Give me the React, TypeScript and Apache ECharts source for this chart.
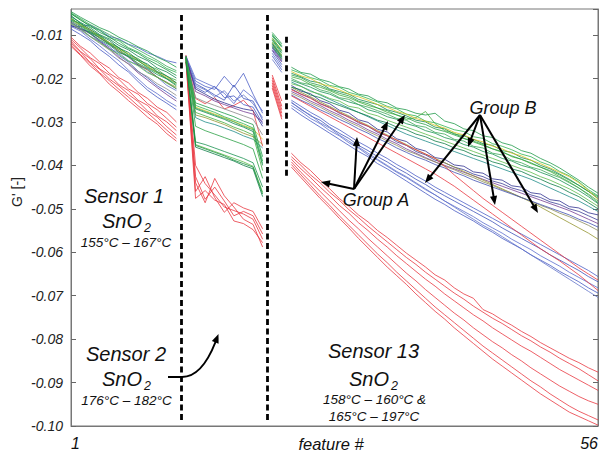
import { useEffect, useRef } from 'react';
import * as echarts from 'echarts';

const FONT = '"Liberation Sans", Arial, sans-serif';

// ---------- axes ----------
const yMin = -0.1;
const yMax = -0.004;
const yStep = 0.01;
const xMin = 1;
const xMax = 56;
const xTickLabels = [1, 56];
const xAxisTitle = 'feature #';
const yAxisTitle = "G' [-]";

// ---------- feature numbers per sensor block ----------
const sensor1Features = [1, 2, 3, 4, 5, 6, 7, 8, 9, 10, 11, 12];
const sensor2Features = [13, 14, 15, 16, 17, 18, 19, 20, 21];
const sensorXFeatures = [22, 23];
const sensor13Features = [24, 25, 26, 27, 28, 29, 30, 31, 32, 33, 34, 35, 36, 37, 38, 39, 40, 41, 42, 43, 44, 45, 46, 47, 48, 49, 50, 51, 52, 53, 54, 55, 56];

// ---------- G' values, in units of 1e-3 ----------
// Sensor 1
const s1Green = [
  [-4.6, -5.9, -7.1, -8.3, -9.2, -10.5, -11.5, -12.7, -13.7, -15.1, -16.1, -17.4],
  [-5.2, -6.4, -8.1, -8.9, -10.6, -11.3, -12.9, -13.9, -15.2, -16.2, -17.7, -18.6],
  [-5.8, -7.1, -8.3, -9.9, -10.9, -12.4, -13.4, -14.9, -15.9, -17.6, -18.5, -19.9],
  [-6.3, -7.5, -9.3, -10.1, -11.9, -12.9, -14.5, -15.4, -17.0, -17.9, -19.5, -20.4],
  [-6.8, -8.1, -9.7, -11.1, -12.3, -14.0, -14.9, -16.5, -17.7, -19.1, -20.1, -21.4],
  [-7.3, -8.5, -10.3, -11.7, -13.3, -14.4, -16.0, -17.1, -18.7, -19.7, -21.1, -22.3],
  [-5.5, -7.3, -8.7, -10.1, -11.2, -13.0, -14.0, -15.7, -16.7, -18.4, -19.4, -21.0],
  [-6.0, -7.8, -9.5, -10.5, -12.1, -13.3, -15.0, -15.9, -17.5, -18.7, -20.1, -21.7],
  [-4.9, -6.2, -7.6, -8.7, -9.9, -11.1, -12.2, -13.4, -14.6, -15.8, -17.2, -18.2],
  [-5.0, -6.6, -7.8, -9.4, -10.4, -11.9, -13.1, -14.2, -15.6, -16.8, -18.0, -19.3],
];
const s1Blue = [
  [-8.1, -8.0, -7.7, -8.9, -10.3, -10.9, -12.1, -12.9, -14.1, -14.9, -15.9, -16.4],
  [-7.2, -8.4, -9.5, -11.3, -12.7, -14.7, -16.2, -18.3, -19.9, -21.7, -23.1, -24.6],
  [-8.0, -9.1, -10.9, -12.5, -14.3, -15.9, -18.1, -20.1, -22.1, -23.5, -25.1, -26.4],
  [-8.6, -9.9, -11.3, -13.3, -14.9, -16.9, -18.5, -20.7, -22.7, -24.3, -25.7, -27.2],
  [-7.6, -8.7, -10.3, -11.5, -13.1, -14.1, -15.9, -16.9, -18.5, -19.7, -21.6, -22.8],
];
const s1Other = [
  [-7.8, -8.7, -9.3, -10.7, -12.1, -13.7, -15.1, -16.9, -17.9, -19.7, -20.9, -22.4],
  [-7.0, -8.5, -9.7, -11.5, -13.1, -15.1, -16.7, -18.7, -20.4, -22.1, -23.7, -25.2],
  [-6.5, -7.9, -8.9, -10.7, -11.9, -13.7, -14.9, -16.7, -18.1, -19.7, -20.9, -22.0],
  [-6.6, -7.3, -9.1, -10.3, -11.7, -12.9, -14.7, -15.9, -17.3, -18.5, -20.0, -21.0],
  [-6.2, -7.6, -8.7, -10.4, -11.7, -13.3, -14.3, -15.9, -17.2, -18.6, -19.7, -21.1],
  [-7.4, -8.9, -10.4, -11.9, -13.4, -15.3, -16.6, -18.4, -19.6, -21.2, -22.4, -23.9],
];
const s1Red = [
  [-10.5, -12.6, -14.1, -16.2, -17.6, -19.8, -21.0, -23.2, -24.6, -26.6, -27.8, -30.0],
  [-11.0, -13.0, -15.2, -16.6, -18.8, -20.2, -22.4, -23.6, -25.8, -27.2, -29.2, -31.2],
  [-11.4, -13.8, -15.4, -17.8, -19.2, -21.4, -22.8, -25.0, -26.2, -28.6, -30.0, -32.0],
  [-11.8, -13.9, -16.3, -17.9, -20.1, -21.7, -23.7, -25.3, -27.5, -28.9, -31.1, -33.0],
  [-12.2, -14.5, -16.5, -18.7, -20.5, -22.5, -24.3, -26.3, -27.9, -29.9, -31.9, -33.8],
  [-12.6, -14.7, -17.1, -18.9, -21.3, -23.1, -25.1, -26.9, -28.9, -30.5, -32.7, -34.4],
];

// Sensor 2
const s2Blue = [
  [-15.0, -20.6, -21.8, -22.5, -19.5, -22.0, -18.8, -23.6, -28.0],
  [-15.4, -21.2, -22.4, -23.8, -25.0, -21.5, -24.6, -25.2, -29.6],
  [-14.8, -20.0, -21.0, -22.0, -23.4, -25.8, -22.6, -24.4, -27.5],
  [-15.6, -22.0, -23.2, -21.8, -24.4, -24.0, -26.0, -26.6, -30.4],
  [-16.0, -21.6, -22.6, -24.2, -22.8, -25.2, -23.8, -25.8, -29.0],
];
const s2Other = [
  [-15.2, -22.4, -23.6, -24.8, -25.6, -26.4, -27.0, -27.4, -31.0],
  [-14.8, -23.0, -24.0, -25.2, -26.0, -26.8, -27.6, -28.2, -30.0],
  [-16.0, -28.4, -29.0, -29.8, -30.6, -31.6, -32.6, -33.4, -35.2],
  [-15.2, -29.0, -30.0, -30.6, -31.4, -32.2, -33.2, -34.0, -36.0],
  [-15.6, -26.6, -27.4, -28.2, -29.0, -29.9, -30.8, -31.6, -34.0],
  [-15.8, -24.4, -25.4, -26.2, -27.0, -27.8, -28.6, -29.4, -33.0],
];
const s2Green = [
  [-15.0, -25.6, -26.4, -27.2, -28.0, -28.8, -29.8, -30.6, -38.0],
  [-15.4, -26.2, -27.0, -27.8, -28.8, -29.6, -30.4, -31.4, -39.0],
  [-15.8, -27.0, -27.8, -28.6, -29.4, -30.4, -31.2, -32.2, -40.0],
  [-16.2, -27.8, -28.6, -29.4, -30.2, -31.2, -32.0, -33.0, -41.2],
  [-15.0, -34.6, -35.2, -36.0, -36.8, -37.6, -38.4, -39.4, -45.0],
  [-15.6, -35.2, -36.0, -36.8, -37.6, -38.4, -39.2, -40.2, -46.2],
  [-16.2, -35.8, -36.6, -37.4, -38.2, -39.0, -40.0, -40.8, -47.2],
  [-14.8, -31.0, -32.0, -32.8, -33.6, -34.4, -35.2, -36.2, -43.0],
  [-15.2, -26.8, -27.6, -28.4, -29.2, -30.0, -31.0, -31.8, -39.6],
  [-15.4, -35.4, -36.2, -37.0, -37.8, -38.8, -39.6, -40.4, -46.6],
];
const s2Red = [
  [-14.6, -40.0, -44.2, -46.8, -49.6, -50.4, -51.2, -52.4, -57.0],
  [-15.0, -42.6, -47.8, -45.0, -48.2, -51.6, -50.6, -51.6, -55.8],
  [-15.4, -44.0, -48.6, -43.0, -47.0, -49.6, -52.4, -53.6, -58.8],
  [-15.8, -46.0, -42.6, -47.4, -50.8, -48.6, -49.8, -50.6, -54.6],
  [-16.2, -47.6, -45.8, -48.0, -49.0, -52.8, -53.4, -54.8, -57.8],
  [-14.8, -24.6, -25.8, -24.4, -27.0, -26.2, -25.0, -27.4, -35.6],
];

// Short block, features 22-23
const sXGreen = [
  [-9.4, -12.0], [-9.8, -12.6], [-10.2, -12.8], [-10.6, -13.6], [-11.0, -13.8],
  [-11.6, -14.6], [-12.0, -15.0], [-12.6, -15.4], [-10.0, -12.4], [-11.2, -14.2],
];
const sXBlue = [[-13.0, -16.0], [-13.6, -16.8], [-14.2, -17.4], [-14.8, -18.0], [-15.6, -18.6]];
const sXOther = [[-12.8, -15.6], [-13.4, -16.2], [-11.8, -14.8], [-12.2, -15.2], [-10.8, -13.4], [-12.4, -15.8]];
const sXRed = [[-19.2, -25.2], [-19.8, -26.4], [-20.4, -27.2], [-21.0, -28.0], [-21.6, -28.8], [-22.2, -29.4]];

// Sensor 13
const s13Green = [
  [-17.4, -18.6, -19.0, -20.2, -20.8, -21.9, -22.4, -23.6, -24.0, -25.2, -25.6, -26.8, -27.2, -28.0, -28.4, -28.0, -29.8, -30.4, -31.6, -32.0, -33.2, -33.6, -34.8, -35.4, -36.6, -37.2, -38.4, -39.4, -40.6, -42.0, -43.4, -45.0, -46.4],
  [-18.0, -18.8, -19.8, -20.4, -21.6, -22.0, -23.2, -23.8, -24.6, -25.4, -26.4, -27.0, -28.2, -28.6, -29.8, -30.2, -31.0, -31.8, -32.2, -33.4, -33.8, -35.0, -35.6, -36.4, -37.4, -38.0, -39.2, -40.0, -41.4, -42.4, -43.8, -45.6, -47.0],
  [-18.8, -19.6, -20.6, -21.0, -22.4, -23.0, -23.6, -24.8, -25.4, -26.0, -27.2, -27.8, -28.6, -29.6, -30.0, -31.2, -31.6, -32.8, -33.2, -34.0, -35.0, -35.4, -36.6, -37.0, -38.2, -38.8, -40.0, -40.8, -42.0, -43.2, -44.6, -46.0, -47.6],
  [-19.6, -20.2, -21.4, -22.0, -22.8, -23.8, -24.4, -25.4, -26.2, -26.8, -27.8, -28.4, -29.4, -29.0, -27.6, -30.4, -32.0, -32.6, -33.8, -34.4, -35.2, -36.2, -36.8, -38.0, -38.6, -39.6, -40.4, -41.4, -42.6, -43.8, -45.2, -46.6, -48.2],
  [-20.4, -21.2, -22.0, -23.0, -23.6, -24.6, -25.4, -26.0, -27.2, -27.8, -28.8, -29.4, -30.4, -31.0, -32.0, -32.6, -33.6, -34.2, -35.2, -35.8, -36.8, -37.4, -38.4, -39.0, -40.0, -40.6, -41.6, -42.4, -43.4, -44.6, -45.8, -47.2, -48.8],
  [-21.2, -21.8, -23.0, -23.6, -24.6, -25.2, -26.4, -26.8, -28.0, -28.6, -29.6, -30.4, -31.2, -32.0, -32.8, -33.6, -34.4, -35.2, -36.0, -36.8, -37.6, -38.4, -39.2, -40.0, -40.8, -41.6, -42.6, -43.4, -44.4, -45.4, -46.6, -48.0, -49.4],
  [-22.0, -22.6, -23.8, -24.4, -25.4, -26.2, -27.0, -27.8, -28.6, -29.6, -30.2, -31.2, -31.8, -32.8, -33.4, -34.4, -35.0, -36.0, -36.6, -37.6, -38.2, -39.2, -39.8, -40.8, -41.4, -42.4, -43.2, -44.2, -45.0, -46.2, -47.2, -48.6, -50.0],
  [-19.2, -19.8, -21.0, -21.6, -22.6, -23.4, -24.0, -25.2, -25.8, -26.8, -27.4, -28.4, -29.0, -30.0, -30.6, -31.6, -32.2, -33.0, -33.8, -34.6, -35.4, -36.2, -37.0, -37.8, -38.6, -39.4, -40.4, -41.2, -42.2, -43.4, -44.6, -46.0, -47.2],
  [-20.0, -21.0, -21.4, -22.6, -23.2, -24.4, -24.8, -26.0, -26.6, -27.4, -28.2, -29.2, -29.6, -30.8, -31.2, -32.4, -32.8, -34.0, -34.4, -35.6, -36.0, -37.2, -37.6, -38.8, -39.4, -40.4, -41.0, -42.0, -42.8, -44.0, -45.2, -46.8, -48.6],
  [-18.4, -19.4, -20.0, -21.2, -21.8, -22.6, -23.6, -24.2, -25.0, -26.0, -26.6, -27.6, -28.2, -29.2, -29.8, -30.8, -31.4, -32.4, -33.0, -34.0, -34.6, -35.6, -36.2, -37.2, -37.8, -38.8, -39.6, -40.6, -41.6, -42.6, -44.0, -45.8, -47.8],
];
const s13GroupB = [
  [-21.6, -22.9, -23.5, -25.1, -25.8, -27.3, -27.9, -29.5, -30.1, -31.7, -32.3, -33.9, -34.5, -36.1, -36.7, -38.2, -38.6, -39.9, -40.2, -41.5, -41.8, -43.1, -43.4, -44.7, -45.0, -46.3, -46.6, -47.9, -48.2, -49.5, -49.8, -50.9, -51.4],
  [-22.4, -23.6, -24.4, -25.8, -26.6, -28.0, -28.8, -30.2, -31.0, -32.4, -33.2, -34.6, -35.4, -36.8, -37.6, -38.8, -39.4, -40.4, -41.0, -42.0, -42.6, -43.6, -44.2, -45.2, -45.8, -46.8, -47.4, -48.4, -49.0, -50.0, -50.6, -51.6, -52.6],
  [-23.0, -24.0, -25.2, -26.2, -27.4, -28.4, -29.6, -30.6, -31.8, -32.8, -34.0, -35.0, -36.2, -37.2, -38.2, -39.2, -40.0, -40.8, -41.6, -42.4, -43.2, -44.0, -44.8, -45.6, -46.4, -47.2, -48.0, -48.8, -49.6, -50.4, -51.4, -52.4, -53.4],
  [-22.0, -23.2, -24.2, -25.4, -26.4, -27.6, -28.6, -29.8, -30.8, -32.0, -33.0, -34.2, -35.2, -36.4, -37.4, -38.4, -39.4, -40.4, -41.4, -42.4, -43.4, -44.4, -45.4, -46.4, -47.4, -48.4, -49.6, -50.8, -52.0, -53.2, -54.4, -55.6, -57.0],
  [-23.4, -24.4, -25.6, -26.6, -27.8, -28.8, -30.0, -31.0, -32.2, -33.2, -34.4, -35.4, -36.6, -37.4, -38.4, -39.2, -40.2, -41.0, -42.0, -42.8, -43.8, -44.6, -45.6, -46.4, -47.4, -48.2, -49.2, -50.0, -51.0, -51.8, -52.8, -53.8, -55.0],
  [-23.8, -25.0, -26.0, -27.2, -28.2, -29.4, -30.4, -31.6, -32.6, -33.8, -34.8, -36.0, -37.0, -38.0, -38.8, -39.8, -40.6, -41.6, -42.4, -43.4, -44.2, -45.0, -45.8, -46.6, -47.4, -48.2, -49.0, -49.8, -50.6, -51.4, -52.4, -53.2, -54.2],
  [-20.8, -21.8, -22.8, -23.8, -24.8, -25.8, -26.8, -27.8, -28.8, -29.8, -30.8, -31.8, -32.8, -33.6, -34.4, -35.2, -36.0, -36.8, -37.6, -38.4, -39.2, -40.0, -40.8, -41.6, -42.4, -43.2, -44.2, -45.2, -46.2, -47.2, -48.2, -49.4, -50.6],
];
const s13RedMid = [
  [-22.6, -23.6, -24.6, -25.8, -26.8, -27.8, -29.0, -30.0, -31.0, -32.2, -33.2, -34.2, -35.4, -36.4, -37.4, -38.4, -40.2, -42.2, -44.0, -45.8, -47.6, -49.2, -50.8, -52.4, -54.0, -55.6, -57.2, -58.8, -60.4, -62.0, -63.6, -65.0, -66.4],
  [-24.0, -25.2, -26.4, -27.6, -28.8, -30.0, -31.2, -32.4, -33.6, -34.8, -36.0, -37.2, -38.4, -39.6, -40.8, -42.0, -43.4, -44.8, -46.4, -48.0, -49.6, -51.2, -52.8, -54.4, -56.0, -57.6, -59.2, -60.6, -62.0, -63.6, -65.2, -67.0, -68.8],
];
const s13GroupA = [
  [-25.0, -26.4, -27.8, -29.0, -30.6, -31.8, -33.2, -34.6, -35.8, -37.2, -38.4, -39.8, -41.0, -42.4, -43.6, -45.0, -46.2, -47.4, -48.6, -49.8, -51.0, -52.2, -53.4, -54.6, -55.8, -57.0, -58.2, -59.4, -60.6, -61.8, -63.0, -64.2, -65.6],
  [-25.6, -27.0, -28.6, -29.6, -31.2, -32.6, -33.8, -35.4, -36.6, -38.0, -39.2, -40.6, -41.8, -43.2, -44.4, -45.8, -47.0, -48.2, -49.4, -50.6, -51.8, -53.0, -54.4, -55.6, -56.8, -58.0, -59.2, -60.6, -61.8, -63.0, -64.2, -65.6, -66.8],
  [-26.2, -27.6, -29.2, -30.4, -32.0, -33.2, -34.8, -36.0, -37.6, -38.8, -40.2, -41.6, -42.8, -44.2, -45.6, -46.8, -48.2, -49.4, -50.6, -51.8, -53.2, -54.4, -55.6, -57.0, -58.2, -59.4, -60.8, -62.0, -63.2, -64.6, -65.8, -67.0, -68.2],
  [-26.8, -28.4, -29.8, -31.2, -32.6, -34.0, -35.4, -36.8, -38.0, -39.6, -40.8, -42.2, -43.6, -45.0, -46.4, -47.8, -49.0, -50.4, -51.6, -52.8, -54.2, -55.4, -56.8, -58.0, -59.2, -60.6, -61.8, -63.0, -64.4, -65.6, -66.8, -68.2, -69.4],
  [-25.4, -27.2, -28.4, -30.2, -31.4, -33.0, -34.4, -35.8, -37.2, -38.6, -40.0, -41.4, -42.6, -44.0, -45.4, -46.8, -48.2, -49.6, -51.0, -52.4, -53.8, -55.0, -56.4, -57.8, -59.2, -60.6, -62.0, -63.4, -64.8, -66.2, -67.6, -69.0, -70.4],
];
const s13Red = [
  [-37.2, -39.4, -41.2, -43.4, -45.4, -47.6, -49.4, -51.4, -53.0, -55.0, -56.6, -58.4, -60.2, -61.8, -63.4, -65.2, -66.4, -68.2, -69.6, -70.6, -73.2, -74.2, -75.6, -76.8, -78.2, -79.4, -80.8, -82.0, -83.2, -84.4, -85.4, -86.6, -87.6],
  [-38.0, -40.0, -42.2, -44.0, -46.2, -48.0, -50.2, -52.0, -54.0, -55.8, -57.6, -59.4, -61.2, -62.8, -64.6, -66.2, -67.8, -69.4, -70.8, -72.4, -73.8, -75.2, -76.4, -77.8, -79.2, -80.4, -81.8, -83.0, -84.4, -85.6, -86.8, -88.2, -89.6],
  [-38.6, -40.8, -42.8, -45.0, -47.0, -49.2, -51.0, -53.2, -55.0, -57.0, -58.8, -60.8, -62.6, -64.4, -66.2, -67.8, -69.6, -71.2, -72.8, -74.4, -75.8, -77.4, -78.8, -80.2, -81.6, -82.8, -84.2, -85.6, -87.0, -88.2, -89.4, -90.6, -91.8],
  [-39.2, -41.6, -43.8, -46.0, -48.2, -50.4, -52.6, -54.6, -56.8, -58.8, -60.8, -62.8, -64.8, -66.6, -68.6, -70.4, -72.2, -74.0, -75.6, -77.4, -79.0, -80.6, -82.0, -83.6, -85.0, -86.6, -88.0, -89.4, -90.8, -92.0, -93.2, -94.2, -95.0],
  [-39.8, -42.2, -44.6, -47.0, -49.2, -51.6, -53.8, -56.0, -58.2, -60.4, -62.4, -64.6, -66.6, -68.6, -70.6, -72.6, -74.4, -76.2, -78.0, -79.8, -81.6, -83.2, -84.8, -86.4, -88.0, -89.6, -91.0, -92.6, -94.0, -95.4, -96.6, -97.6, -98.6],
  [-40.4, -42.8, -45.2, -47.6, -49.8, -52.2, -54.4, -56.8, -59.0, -61.2, -63.4, -65.4, -67.4, -69.6, -71.6, -73.6, -75.4, -77.4, -79.2, -81.0, -82.8, -84.6, -86.2, -87.8, -89.4, -91.0, -92.6, -94.0, -95.4, -96.8, -97.8, -98.8, -99.8],
];

// ---------- boundaries between sensors (feature #, G' range) ----------
const boundaries = [
  { x: 12.5, from: -0.0054, to: -0.0986 },
  { x: 21.5, from: -0.0054, to: -0.0986 },
  { x: 23.5, from: -0.0104, to: -0.0429 },
];

// ---------- colours ----------
const RED = '#e8353e';
const GREENS = ['#1e9a48', '#2db34e', '#12874c', '#43ad3c', '#199250', '#5bba4a', '#0c7c44', '#28a043', '#3aa857', '#168f3e'];
const BLUES = ['#4b5ec6', '#3c50b8', '#5a6ccd', '#4558c2', '#6273ca'];
const OTHERS = ['#2c2e8e', '#743b93', '#93932e', '#1f8c88', '#d9c41f', '#888888'];
const S13_GREENS = ['#1e9a48', '#2db34e', '#12874c', '#43ad3c', '#199250', '#5bba4a', '#0c7c44', '#28a043', '#3aa857', '#d6c21e'];
const S13_B = ['#2c2e8e', '#3a3c96', '#743b93', '#93932e', '#8c8c5c', '#4150b2', '#1f8c88'];

function lineSeries(features: number[], vals: number[], color: string, z = 2) {
  return {
    type: 'line',
    data: features.map((f, i) => [f, vals[i] / 1000]),
    symbol: 'none',
    silent: true,
    z,
    emphasis: { disabled: true },
    lineStyle: { color, width: 0.9, opacity: 0.88 },
  };
}

function arrowHead(tx: number, ty: number, fx: number, fy: number, L = 9, W = 3.6) {
  const dx = tx - fx, dy = ty - fy;
  const len = Math.hypot(dx, dy);
  const ux = dx / len, uy = dy / len;
  const bx = tx - ux * L, by = ty - uy * L;
  return {
    type: 'polygon',
    silent: true,
    z: 120,
    shape: { points: [[tx, ty], [bx - uy * W, by + ux * W], [bx + uy * W, by - ux * W]] },
    style: { fill: '#000' },
  };
}

function arrow(x0: number, y0: number, x1: number, y1: number) {
  const dx = x1 - x0, dy = y1 - y0;
  const len = Math.hypot(dx, dy);
  const ux = dx / len, uy = dy / len;
  return [
    {
      type: 'line', silent: true, z: 120,
      shape: { x1: x0, y1: y0, x2: x1 - ux * 7, y2: y1 - uy * 7 },
      style: { stroke: '#000', lineWidth: 2 },
    },
    arrowHead(x1, y1, x0, y0),
  ];
}

const notes = [
  { text: 'Sensor 1', x: 124, y: 196, size: 20, align: 'center' },
  { text: 'SnO', x: 102, y: 221, size: 20, align: 'left' },
  { text: '2', x: 144, y: 228, size: 12.5, align: 'left' },
  { text: '155°C – 167°C', x: 126, y: 242.5, size: 13.5, align: 'center' },
  { text: 'Sensor 2', x: 126, y: 353.7, size: 20, align: 'center' },
  { text: 'SnO', x: 102, y: 378.5, size: 20, align: 'left' },
  { text: '2', x: 144, y: 385.5, size: 12.5, align: 'left' },
  { text: '176°C – 182°C', x: 126.5, y: 400.5, size: 13.5, align: 'center' },
  { text: 'Sensor 13', x: 373.5, y: 351, size: 20, align: 'center' },
  { text: 'SnO', x: 349, y: 378.5, size: 20, align: 'left' },
  { text: '2', x: 391, y: 385.5, size: 12.5, align: 'left' },
  { text: '158°C – 160°C &', x: 374.5, y: 399.5, size: 13.5, align: 'center' },
  { text: '165°C – 197°C', x: 374, y: 416.7, size: 13.5, align: 'center' },
  { text: 'Group A', x: 376, y: 200, size: 18, align: 'center' },
  { text: 'Group B', x: 503, y: 108, size: 18, align: 'center' },
];

const groupAFrom = [354, 189];
const groupATo = [[321, 182], [357, 137], [388, 121], [405, 115]];
const groupBFrom = [480, 115];
const groupBTo = [[425, 183], [468, 147], [495, 205], [538, 213]];

function buildOption() {
  const series: any[] = [];
  s1Red.forEach((v) => series.push(lineSeries(sensor1Features, v, RED)));
  s1Blue.forEach((v, i) => series.push(lineSeries(sensor1Features, v, BLUES[i % BLUES.length])));
  s1Other.forEach((v, i) => series.push(lineSeries(sensor1Features, v, OTHERS[i % OTHERS.length])));
  s1Green.forEach((v, i) => series.push(lineSeries(sensor1Features, v, GREENS[i % GREENS.length], 3)));

  s2Red.forEach((v) => series.push(lineSeries(sensor2Features, v, RED)));
  s2Blue.forEach((v, i) => series.push(lineSeries(sensor2Features, v, BLUES[i % BLUES.length])));
  s2Other.forEach((v, i) => series.push(lineSeries(sensor2Features, v, OTHERS[i % OTHERS.length])));
  s2Green.forEach((v, i) => series.push(lineSeries(sensor2Features, v, GREENS[i % GREENS.length], 3)));

  sXRed.forEach((v) => series.push(lineSeries(sensorXFeatures, v, RED)));
  sXBlue.forEach((v, i) => series.push(lineSeries(sensorXFeatures, v, BLUES[i % BLUES.length])));
  sXOther.forEach((v, i) => series.push(lineSeries(sensorXFeatures, v, OTHERS[i % OTHERS.length])));
  sXGreen.forEach((v, i) => series.push(lineSeries(sensorXFeatures, v, GREENS[i % GREENS.length], 3)));

  s13Red.forEach((v) => series.push(lineSeries(sensor13Features, v, RED)));
  s13GroupA.forEach((v, i) => series.push(lineSeries(sensor13Features, v, BLUES[i % BLUES.length])));
  s13GroupB.forEach((v, i) => series.push(lineSeries(sensor13Features, v, S13_B[i % S13_B.length])));
  s13RedMid.forEach((v) => series.push(lineSeries(sensor13Features, v, RED)));
  s13Green.forEach((v, i) => series.push(lineSeries(sensor13Features, v, S13_GREENS[i % S13_GREENS.length], 3)));

  series[0].markLine = {
    silent: true,
    symbol: ['none', 'none'],
    label: { show: false },
    emphasis: { disabled: true },
    animation: false,
    z: 10,
    lineStyle: { color: '#000', width: 2.8, type: [6, 3.5], opacity: 1 },
    data: boundaries.map((b) => [{ coord: [b.x, b.from] }, { coord: [b.x, b.to] }]),
  };

  const graphic: any[] = [];
  notes.forEach((n) =>
    graphic.push({
      type: 'text', x: n.x, y: n.y, silent: true, z: 110,
      style: {
        text: n.text, fontSize: n.size, fontStyle: 'italic', fontFamily: FONT,
        fill: '#111', align: n.align, verticalAlign: 'middle',
      },
    })
  );
  // axis titles
  graphic.push({
    type: 'text', x: 331, y: 443.5, silent: true, z: 110,
    style: { text: xAxisTitle, fontSize: 16.5, fontStyle: 'italic', fontFamily: FONT, fill: '#111', align: 'center', verticalAlign: 'middle' },
  });
  graphic.push({
    type: 'text', x: 17, y: 192, rotation: Math.PI / 2, silent: true, z: 110,
    style: { text: yAxisTitle, fontSize: 14, fontFamily: FONT, fill: '#222', align: 'center', verticalAlign: 'middle' },
  });
  groupATo.forEach((p) => graphic.push(...arrow(groupAFrom[0], groupAFrom[1], p[0], p[1])));
  groupBTo.forEach((p) => graphic.push(...arrow(groupBFrom[0], groupBFrom[1], p[0], p[1])));
  // curved arrow from "Sensor 2" into the sensor 2 block
  graphic.push({
    type: 'line', silent: true, z: 120,
    shape: { x1: 168, y1: 377, x2: 183, y2: 377 },
    style: { stroke: '#000', lineWidth: 2 },
  });
  graphic.push({
    type: 'bezierCurve', silent: true, z: 120,
    shape: { x1: 182, y1: 377, cpx1: 199, cpy1: 377, cpx2: 210, cpy2: 356, x2: 215.5, y2: 342 },
    style: { stroke: '#000', lineWidth: 2, fill: 'none' },
  });
  graphic.push(arrowHead(218.5, 334, 215, 343));

  return {
    animation: false,
    backgroundColor: '#ffffff',
    grid: {
      left: 71, right: 8, top: 9, bottom: 34,
      show: true, borderColor: '#777', borderWidth: 1,
      containLabel: false, outerBoundsMode: 'none',
    },
    xAxis: {
      type: 'value', min: xMin, max: xMax, interval: 1,
      axisLine: { show: true, onZero: false, lineStyle: { color: '#777', width: 1 } },
      axisTick: { show: false },
      splitLine: { show: false },
      axisLabel: {
        formatter: (v: number) => (xTickLabels.includes(v) ? String(v) : ''),
        alignMinLabel: 'left', alignMaxLabel: 'right',
        fontStyle: 'italic', fontSize: 16, fontFamily: FONT, color: '#111', margin: 9,
      },
    },
    yAxis: [
      {
        type: 'value', min: yMin, max: yMax, interval: yStep, position: 'left',
        axisLine: { show: true, onZero: false, lineStyle: { color: '#777', width: 1 } },
        axisTick: { show: true, inside: true, length: 5, lineStyle: { color: '#666' } },
        splitLine: { show: false },
        axisLabel: {
          formatter: (v: number) => v.toFixed(2), showMaxLabel: false,
          fontStyle: 'italic', fontSize: 14, fontFamily: FONT, color: '#222', margin: 8,
        },
      },
      {
        type: 'value', min: yMin, max: yMax, interval: yStep, position: 'right',
        axisLine: { show: true, onZero: false, lineStyle: { color: '#777', width: 1 } },
        axisTick: { show: true, inside: true, length: 5, lineStyle: { color: '#666' } },
        splitLine: { show: false },
        axisLabel: { show: false },
      },
    ],
    series,
    graphic,
  };
}

export default function App() {
  const ref = useRef<HTMLDivElement>(null);
  useEffect(() => {
    if (!ref.current) return;
    const chart = echarts.init(ref.current, null, { renderer: 'svg' });
    chart.setOption(buildOption() as any);
    return () => chart.dispose();
  }, []);
  return (
    <div
      ref={ref}
      style={{ position: 'absolute', left: 0, top: 0, width: 606, height: 460, background: '#fff' }}
    />
  );
}
